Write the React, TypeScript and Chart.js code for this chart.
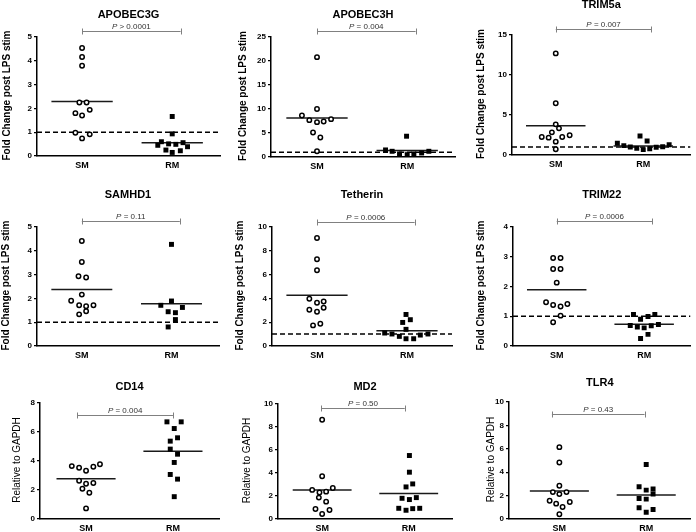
import React, { useEffect, useRef } from "react";
import { Chart, registerables } from "chart.js";

Chart.register(...registerables);

const FONT = "'Liberation Sans', Arial, Helvetica, sans-serif";

const categories = ["SM", "RM"];
const panelTitles = ["APOBEC3G", "APOBEC3H", "TRIM5a", "SAMHD1", "Tetherin", "TRIM22", "CD14", "MD2", "TLR4"];
const yAxisTitles = [
  "Fold Change post LPS stim", "Fold Change post LPS stim", "Fold Change post LPS stim",
  "Fold Change post LPS stim", "Fold Change post LPS stim", "Fold Change post LPS stim",
  "Relative to GAPDH", "Relative to GAPDH", "Relative to GAPDH",
];
const yMaxValues = [5, 25, 15, 5, 10, 4, 8, 10, 10];
const yStepValues = [1, 5, 5, 1, 2, 1, 2, 2, 2];
const pValueTexts = ["> 0.0001", "= 0.004", "= 0.007", "= 0.11", "= 0.0006", "= 0.0006", "= 0.004", "= 0.50", "= 0.43"];
const referenceLevels: (number | null)[] = [1, 1, 1, 1, 1, 1, null, null, null];

// SM (open circles): x = category position (1) + horizontal spread, y = value
const smX = [
  [1.0, 1.0, 1.0, 0.97, 1.05, 1.085, 0.926, 1.0, 0.926, 1.085, 1.0],
  [1.0, 1.0, 0.833, 0.915, 1.0, 1.074, 1.156, 0.956, 1.037, 1.0],
  [1.0, 1.0, 1.0, 1.037, 0.956, 0.84, 0.919, 1.074, 1.159, 1.0, 1.0],
  [1.0, 1.0, 0.963, 1.048, 1.0, 0.881, 0.97, 1.048, 1.13, 1.048, 0.97],
  [1.0, 1.0, 1.0, 0.915, 1.0, 1.074, 1.074, 0.915, 1.0, 0.956, 1.037],
  [0.959, 1.044, 0.959, 1.044, 1.0, 0.878, 0.959, 1.044, 1.122, 1.044, 0.959],
  [0.836, 0.92, 1.0, 1.084, 1.16, 0.92, 1.0, 1.084, 0.958, 1.038, 1.0],
  [1.0, 1.0, 0.885, 0.969, 1.046, 1.123, 0.962, 1.046, 0.923, 1.085, 1.0],
  [1.0, 1.0, 1.0, 0.925, 1.0, 1.082, 0.888, 0.963, 1.037, 1.12, 1.0],
];
const smY = [
  [4.54, 4.16, 3.79, 2.25, 2.25, 1.94, 1.8, 1.7, 0.98, 0.91, 0.74],
  [20.8, 10.0, 8.66, 7.68, 7.26, 7.4, 7.89, 5.1, 4.05, 1.19],
  [12.7, 6.46, 3.83, 3.33, 2.83, 2.25, 2.17, 2.25, 2.46, 1.67, 0.71],
  [4.41, 3.53, 2.93, 2.88, 2.16, 1.9, 1.71, 1.67, 1.71, 1.46, 1.33],
  [9.08, 7.29, 6.37, 3.97, 3.63, 3.74, 3.21, 3.04, 2.88, 1.73, 1.87],
  [2.96, 2.96, 2.59, 2.59, 2.13, 1.47, 1.38, 1.33, 1.41, 1.02, 0.8],
  [3.65, 3.53, 3.33, 3.6, 3.78, 2.64, 2.43, 2.48, 2.09, 1.81, 0.73],
  [8.63, 3.72, 2.53, 2.3, 2.38, 2.7, 1.86, 1.51, 0.87, 0.78, 0.44],
  [6.14, 4.83, 2.84, 2.3, 2.13, 2.3, 1.56, 1.31, 1.02, 1.45, 0.4],
];
// RM (filled squares)
const rmX = [
  [2.0, 2.0, 1.88, 2.12, 1.96, 2.04, 1.84, 2.17, 1.93, 2.09, 2.0],
  [1.993, 1.76, 1.833, 1.915, 2.0, 2.074, 2.16, 2.24],
  [1.963, 2.044, 1.704, 1.778, 1.852, 1.926, 2.0, 2.074, 2.148, 2.222, 2.296],
  [2.0, 2.0, 1.881, 2.122, 1.963, 2.044, 2.044, 1.963],
  [1.989, 2.037, 1.952, 1.989, 1.752, 1.833, 1.915, 1.989, 2.074, 2.148, 2.233],
  [1.878, 2.122, 2.044, 1.959, 1.841, 1.922, 2.081, 2.163, 2.0, 2.044, 1.959],
  [1.931, 2.095, 2.015, 2.053, 1.969, 1.969, 2.053, 2.015, 1.969, 2.053, 2.015],
  [2.008, 2.008, 2.046, 1.969, 1.923, 2.008, 2.088, 1.885, 1.969, 2.046, 2.127],
  [2.0, 1.918, 2.0, 2.079, 2.079, 1.918, 2.0, 1.918, 2.0, 2.079],
];
const rmY = [
  [1.66, 0.93, 0.6, 0.56, 0.51, 0.49, 0.45, 0.39, 0.25, 0.22, 0.15],
  [4.33, 1.47, 1.19, 0.63, 0.49, 0.63, 0.84, 1.19],
  [2.38, 1.75, 1.46, 1.17, 1.0, 0.83, 0.67, 0.79, 0.96, 1.04, 1.29],
  [4.27, 1.89, 1.71, 1.62, 1.44, 1.4, 1.11, 0.8],
  [2.65, 2.21, 1.98, 1.4, 1.09, 1.01, 0.81, 0.61, 0.61, 0.92, 1.01],
  [1.06, 1.06, 0.99, 0.9, 0.69, 0.64, 0.68, 0.72, 0.61, 0.39, 0.25],
  [6.7, 6.7, 6.24, 5.6, 5.37, 4.82, 4.47, 3.9, 3.07, 2.75, 1.54],
  [5.52, 4.07, 3.05, 2.79, 1.8, 1.69, 1.86, 0.93, 0.76, 0.9, 0.93],
  [4.66, 2.76, 2.47, 2.56, 2.13, 1.76, 1.7, 0.97, 0.57, 0.82],
];
const smMeans = [2.29, 8.1, 3.67, 2.37, 4.27, 1.89, 2.78, 2.53, 2.39];
const rmMeans = [0.56, 1.35, 1.12, 1.78, 1.28, 0.73, 4.68, 2.21, 2.05];
const bracketStart = [1.0, 1.0, 1.0, 1.0, 1.0, 1.0, 0.9, 0.99, 0.914];
const bracketEnd = [2.093, 2.093, 2.093, 2.093, 2.085, 2.093, 2.0, 1.954, 1.981];
const bracketLevel = [5.27, 26.3, 15.7, 5.24, 10.45, 4.19, 7.16, 9.65, 8.95];

// layout (page pixels): canvas cell, plot area edges, title and axis-title positions
type Layout = {
  cell: [number, number, number, number];
  L: number; R: number; T: number; B: number;
  yTitleX: number; titleY: number; xMin: number; xMax: number;
};
const layouts: Layout[] = [
  { cell: [0, 0, 232, 180], L: 37, R: 220, T: 37, B: 156, yTitleX: 7, titleY: 15, xMin: 0.5, xMax: 2.53 },
  { cell: [232, 0, 232, 180], L: 271, R: 455, T: 37, B: 157, yTitleX: 243.5, titleY: 15, xMin: 0.49, xMax: 2.53 },
  { cell: [464, 0, 232, 180], L: 512, R: 696, T: 35, B: 155, yTitleX: 481, titleY: 5, xMin: 0.5, xMax: 2.54 },
  { cell: [0, 180, 232, 185], L: 37, R: 219, T: 227, B: 346, yTitleX: 6.5, titleY: 195, xMin: 0.5, xMax: 2.53 },
  { cell: [232, 180, 232, 185], L: 272, R: 452, T: 227, B: 346, yTitleX: 240, titleY: 195, xMin: 0.5, xMax: 2.5 },
  { cell: [464, 180, 232, 185], L: 513, R: 696, T: 227, B: 346, yTitleX: 481.5, titleY: 195, xMin: 0.5, xMax: 2.53 },
  { cell: [0, 355, 232, 177], L: 40, R: 219, T: 403, B: 519, yTitleX: 17.5, titleY: 387, xMin: 0.47, xMax: 2.53 },
  { cell: [232, 355, 232, 177], L: 278, R: 452, T: 404, B: 519, yTitleX: 247.5, titleY: 387, xMin: 0.49, xMax: 2.5 },
  { cell: [464, 355, 232, 177], L: 509, R: 696, T: 402, B: 519, yTitleX: 491, titleY: 383, xMin: 0.42, xMax: 2.51 },
];
const MEAN_HALF = 0.34;

function decorPlugin(i: number) {
  return {
    id: "decor" + i,
    afterDraw(chart: any) {
      const { ctx, chartArea, scales } = chart;
      const lay = layouts[i];
      ctx.save();
      ctx.fillStyle = "#000";
      ctx.textAlign = "center";
      ctx.textBaseline = "middle";
      ctx.font = `bold 11px ${FONT}`;
      ctx.fillText(panelTitles[i], (chartArea.left + chartArea.right) / 2, lay.titleY - lay.cell[1]);

      ctx.save();
      ctx.translate(lay.yTitleX - lay.cell[0], (chartArea.top + chartArea.bottom) / 2 - 1);
      ctx.rotate(-Math.PI / 2);
      ctx.font = i < 6 ? `bold 10px ${FONT}` : `10px ${FONT}`;
      ctx.fillText(yAxisTitles[i], 0, 0);
      ctx.restore();

      const x1 = scales.x.getPixelForValue(bracketStart[i]);
      const x2 = scales.x.getPixelForValue(bracketEnd[i]);
      const by = Math.round(scales.y.getPixelForValue(bracketLevel[i])) + 0.5;
      ctx.strokeStyle = "#808080";
      ctx.lineWidth = 1;
      ctx.beginPath();
      ctx.moveTo(x1, by);
      ctx.lineTo(x2, by);
      ctx.moveTo(Math.round(x1) + 0.5, by - 3);
      ctx.lineTo(Math.round(x1) + 0.5, by + 3);
      ctx.moveTo(Math.round(x2) + 0.5, by - 3);
      ctx.lineTo(Math.round(x2) + 0.5, by + 3);
      ctx.stroke();

      ctx.fillStyle = "#333";
      ctx.textBaseline = "alphabetic";
      ctx.textAlign = "left";
      const pFont = `italic 8px ${FONT}`;
      const restFont = `8px ${FONT}`;
      ctx.font = pFont;
      const wP = ctx.measureText("P").width;
      ctx.font = restFont;
      const rest = " " + pValueTexts[i];
      const wR = ctx.measureText(rest).width;
      const cx = (x1 + x2) / 2;
      const sx = cx - (wP + wR) / 2;
      const ty = by - 2.5;
      ctx.font = pFont;
      ctx.fillText("P", sx, ty);
      ctx.font = restFont;
      ctx.fillText(rest, sx + wP, ty);
      ctx.restore();
    },
  };
}

function buildConfig(i: number): any {
  const lay = layouts[i];
  const [cl, ct, cw, ch] = lay.cell;
  const yW = lay.L - cl;
  const xH = ct + ch - lay.B;
  const padTop = lay.T - ct;
  const padRight = cl + cw - lay.R;
  const pts = (xs: number[], ys: number[]) => xs.map((x, k) => ({ x, y: ys[k] }));
  const datasets: any[] = [
    {
      label: categories[0],
      data: pts(smX[i], smY[i]),
      showLine: false,
      pointStyle: "circle",
      pointRadius: 2.2,
      pointBorderWidth: 1.5,
      pointBorderColor: "#000",
      pointBackgroundColor: "#fff",
      order: 0,
    },
    {
      label: categories[1],
      data: pts(rmX[i], rmY[i]),
      showLine: false,
      pointStyle: "rect",
      pointRadius: 3.5,
      pointBorderWidth: 0,
      pointBorderColor: "#000",
      pointBackgroundColor: "#000",
      order: 0,
    },
    {
      label: "SM mean",
      data: [{ x: 1 - MEAN_HALF, y: smMeans[i] }, { x: 1 + MEAN_HALF, y: smMeans[i] }],
      showLine: true,
      pointRadius: 0,
      borderColor: "#1a1a1a",
      borderWidth: 1.5,
      order: 1,
    },
    {
      label: "RM mean",
      data: [{ x: 2 - MEAN_HALF, y: rmMeans[i] }, { x: 2 + MEAN_HALF, y: rmMeans[i] }],
      showLine: true,
      pointRadius: 0,
      borderColor: "#1a1a1a",
      borderWidth: 1.5,
      order: 1,
    },
  ];
  const ref = referenceLevels[i];
  if (ref !== null) {
    datasets.push({
      label: "baseline",
      data: [{ x: lay.xMin, y: ref }, { x: lay.xMax, y: ref }],
      showLine: true,
      pointRadius: 0,
      borderColor: "#000",
      borderWidth: 1.5,
      borderDash: [5, 3],
      order: 2,
    });
  }
  return {
    type: "scatter",
    data: { datasets },
    options: {
      animation: false,
      responsive: false,
      maintainAspectRatio: false,
      devicePixelRatio: 1,
      events: [],
      layout: { padding: { left: 0, top: padTop, right: padRight, bottom: 0 } },
      plugins: { legend: { display: false }, tooltip: { enabled: false }, title: { display: false } },
      scales: {
        x: {
          type: "linear",
          min: lay.xMin,
          max: lay.xMax,
          afterBuildTicks: (ax: any) => {
            ax.ticks = [{ value: 1 }, { value: 2 }];
          },
          afterFit: (ax: any) => {
            ax.height = xH;
          },
          grid: { display: false, drawTicks: false },
          border: { display: true, color: "#000", width: 1.5 },
          ticks: {
            autoSkip: false,
            maxRotation: 0,
            padding: 4,
            color: "#000",
            font: { family: FONT, size: 9, weight: "bold" },
            callback: (v: number) => (v === 1 ? categories[0] : v === 2 ? categories[1] : ""),
          },
        },
        y: {
          type: "linear",
          min: 0,
          max: yMaxValues[i],
          afterFit: (ax: any) => {
            ax.width = yW;
          },
          grid: { display: true, drawOnChartArea: false, drawTicks: true, tickLength: 3, color: "#000", lineWidth: 1.2 },
          border: { display: true, color: "#000", width: 1.5 },
          ticks: {
            stepSize: yStepValues[i],
            padding: 2,
            color: "#000",
            font: { family: FONT, size: 8, weight: "bold" },
          },
        },
      },
    },
    plugins: [decorPlugin(i)],
  };
}

export default function App() {
  const refs = useRef<(HTMLCanvasElement | null)[]>([]);
  useEffect(() => {
    const charts = layouts.map((_, i) => new Chart(refs.current[i] as HTMLCanvasElement, buildConfig(i)));
    return () => charts.forEach((c) => c.destroy());
  }, []);
  return (
    <div style={{ position: "absolute", left: 0, top: 0, width: 696, height: 532, background: "#fff", overflow: "hidden" }}>
      {layouts.map((lay, i) => (
        <canvas
          key={i}
          ref={(el) => {
            refs.current[i] = el;
          }}
          width={lay.cell[2]}
          height={lay.cell[3]}
          style={{ position: "absolute", left: lay.cell[0], top: lay.cell[1], width: lay.cell[2], height: lay.cell[3] }}
        />
      ))}
    </div>
  );
}
